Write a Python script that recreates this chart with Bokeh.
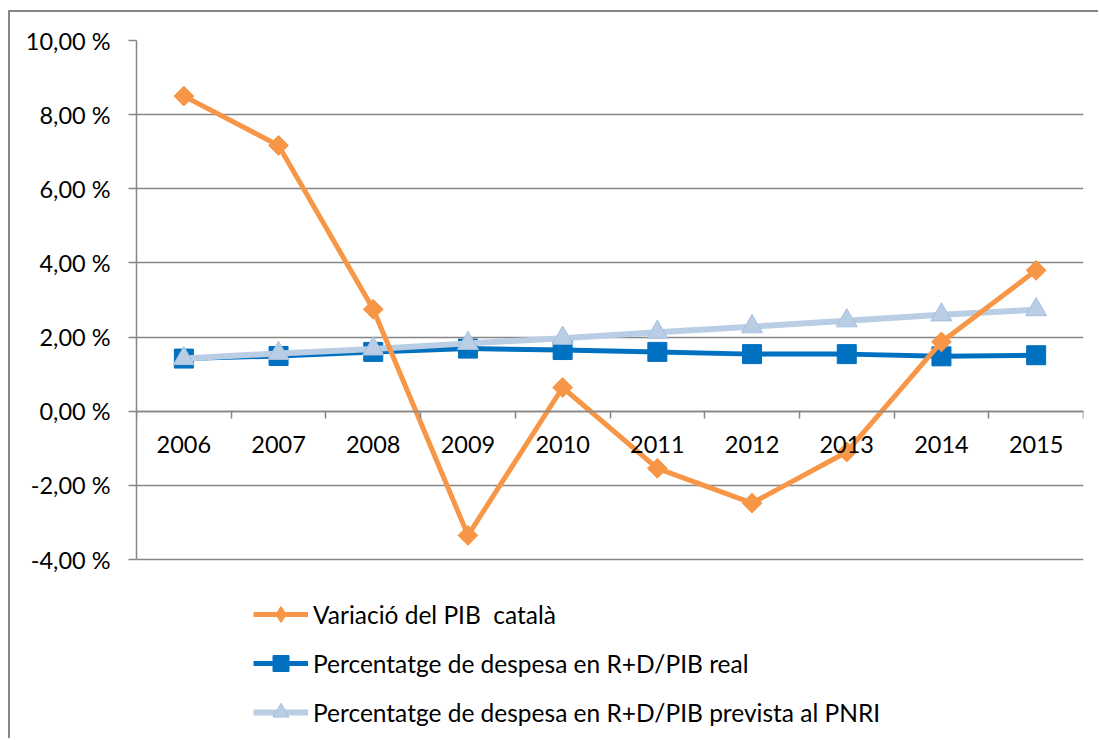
from bokeh.plotting import figure
from bokeh.models import Range1d, FixedTicker, LinearAxis, Legend, LegendItem, ColumnDataSource
from bokeh.embed import file_html
from bokeh.resources import INLINE
import math

years = ["2006", "2007", "2008", "2009", "2010", "2011", "2012", "2013", "2014", "2015"]
pib = [8.50, 7.17, 2.75, -3.35, 0.64, -1.54, -2.48, -1.10, 1.87, 3.80]
real = [1.42, 1.49, 1.60, 1.69, 1.65, 1.60, 1.54, 1.54, 1.48, 1.51]
pnri = [1.42, 1.56, 1.68, 1.83, 1.97, 2.13, 2.28, 2.44, 2.60, 2.74]
y_ticks = [-4, -2, 0, 2, 4, 6, 8, 10]
labels = ["Variació del PIB  català",
          "Percentatge de despesa en R+D/PIB real",
          "Percentatge de despesa en R+D/PIB prevista al PNRI"]

xs = list(range(len(years)))
src = ColumnDataSource(dict(x=xs, pib=pib, real=real, pnri=pnri))

GRAY = "#868686"
FONT = "Lato"
FS = "23.5px"
FS_LEG = "24.5px"

# plot area: value axis occupies 519 px of a 700 px tall frame; the rest holds the legend
W, H, TOP = 1090, 728, 28
frame_h = H - TOP
axis_px = 519
y_lo, y_hi = y_ticks[0], y_ticks[-1]
y_start = y_hi - (y_hi - y_lo) * frame_h / axis_px

p = figure(width=W, height=H, x_range=Range1d(-0.5, len(years) - 0.5),
           y_range=Range1d(y_start, y_hi),
           output_backend="svg", toolbar_location=None,
           x_axis_location=None,
           min_border_left=126, min_border_right=17, min_border_top=TOP, min_border_bottom=0)
p.styles = {"margin-left": "8px", "margin-top": "10px",
            "border-left": f"2px solid {GRAY}", "border-top": f"2px solid {GRAY}"}
p.outline_line_color = None
p.background_fill_color = "white"
p.border_fill_color = "white"

# y axis
p.yaxis.ticker = FixedTicker(ticks=y_ticks)
p.yaxis.bounds = (y_lo, y_hi)
p.yaxis.major_label_overrides = {t: f"{t:.2f}".replace(".", ",") + " %" for t in y_ticks}
p.yaxis.axis_line_color = GRAY
p.yaxis.axis_line_width = 1.5
p.yaxis.major_tick_line_color = GRAY
p.yaxis.major_tick_line_width = 1.5
p.yaxis.major_tick_out = 8
p.yaxis.major_tick_in = 0
p.yaxis.minor_tick_line_color = None
p.yaxis.major_label_standoff = 18
p.yaxis.major_label_text_font = FONT
p.yaxis.major_label_text_font_size = FS
p.yaxis.major_label_text_color = "black"

p.ygrid.ticker = FixedTicker(ticks=y_ticks)
p.ygrid.grid_line_color = GRAY
p.ygrid.grid_line_width = 1.5
p.xgrid.visible = False

# x axis with boundary ticks (no labels)
ax_ticks = LinearAxis(ticker=FixedTicker(ticks=[i - 0.5 for i in range(len(years) + 1)]),
                      fixed_location=0)
ax_ticks.axis_line_color = GRAY
ax_ticks.axis_line_width = 1.5
ax_ticks.major_tick_line_color = GRAY
ax_ticks.major_tick_line_width = 1.5
ax_ticks.major_tick_out = 7
ax_ticks.major_tick_in = 0
ax_ticks.minor_tick_line_color = None
ax_ticks.major_label_text_font_size = "0px"
ax_ticks.major_label_text_alpha = 0
p.add_layout(ax_ticks, "below")

# x axis with category labels
ax_lab = LinearAxis(ticker=FixedTicker(ticks=xs), fixed_location=0)
ax_lab.major_label_overrides = {i: y for i, y in enumerate(years)}
ax_lab.axis_line_color = None
ax_lab.major_tick_line_color = None
ax_lab.minor_tick_line_color = None
ax_lab.major_tick_out = 0
ax_lab.major_tick_in = 0
ax_lab.major_label_standoff = 25
ax_lab.major_label_text_font = FONT
ax_lab.major_label_text_font_size = FS
ax_lab.major_label_text_color = "black"
p.add_layout(ax_lab, "below")

ORANGE = "#F79646"
BLUE = "#0070C0"
LBLUE = "#B9CDE5"

l_real = p.line("x", "real", source=src, line_color=BLUE, line_width=5)
m_real = p.scatter("x", "real", source=src, marker="square", size=19,
                   fill_color=BLUE, line_color=BLUE)
l_pnri = p.line("x", "pnri", source=src, line_color=LBLUE, line_width=6)
m_pnri = p.scatter("x", "pnri", source=src, marker="triangle", size=21,
                   fill_color=LBLUE, line_color="#A7BFDF", line_width=1)
l_pib = p.line("x", "pib", source=src, line_color=ORANGE, line_width=5)
# diamond marker (used by the legend key); covered by the rotated squares in the plot
k_pib_m = p.scatter("x", "pib", source=src, marker="diamond", size=19,
                    fill_color=ORANGE, line_color=ORANGE)
m_pib = p.scatter("x", "pib", source=src, marker="square", size=14, angle=math.pi / 4,
                  fill_color=ORANGE, line_color=ORANGE)

legend = Legend(items=[
    LegendItem(label=labels[0], renderers=[l_pib, k_pib_m]),
    LegendItem(label=labels[1], renderers=[l_real, m_real]),
    LegendItem(label=labels[2], renderers=[l_pnri, m_pnri]),
], location=(117, 8))
legend.glyph_width = 55
legend.glyph_height = 40
legend.label_height = 40
legend.spacing = 9
legend.padding = 0
legend.margin = 0
legend.label_standoff = 5
legend.border_line_color = None
legend.background_fill_alpha = 0
legend.label_text_font = FONT
legend.label_text_font_size = FS_LEG
legend.label_text_color = "black"
p.add_layout(legend, "center")

open("out.html", "w").write(file_html(p, INLINE))
